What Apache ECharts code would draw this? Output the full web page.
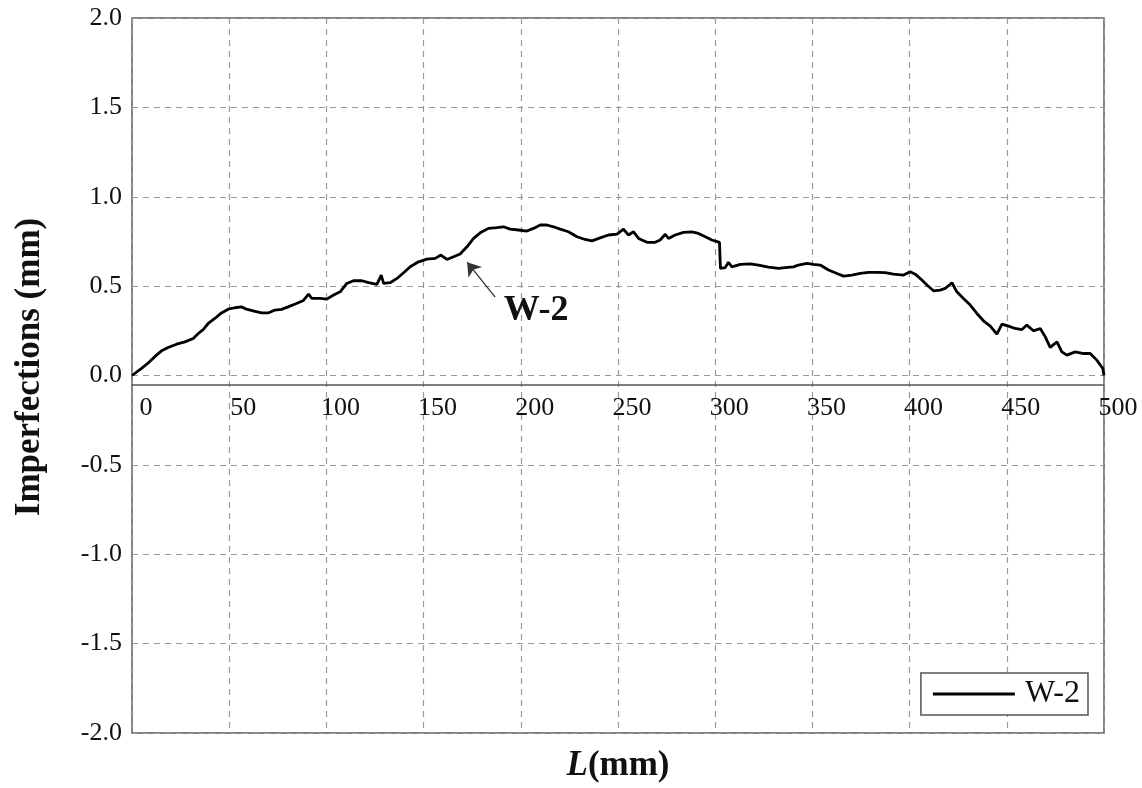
<!DOCTYPE html>
<html>
<head>
<meta charset="utf-8">
<title>W-2 imperfections</title>
<script src="https://cdn.jsdelivr.net/npm/echarts@6/dist/echarts.min.js"></script>
<style>
  html, body { margin: 0; padding: 0; background: #fff; }
  #chart { width: 1142px; height: 788px; }
</style>
</head>
<body>
<div id="chart"></div>
<script>
// Measured profile along the specimen length (mm) and its imperfection (mm)
const lengthMm = [
  0, 4.9, 8.3, 12.6, 15.2, 18.6, 22.9, 27.2, 31.5, 34.1, 36.6, 39.2, 42.6, 46.0, 49.5,
  52.9, 56.3, 58.9, 62.3, 66.6, 70.1, 73.5, 76.9, 80.3, 84.6, 88.2, 90.8, 92.5, 96.8,
  100.2, 103.7, 107.1, 110.5, 113.9, 118.3, 121.7, 126.0, 128.2, 129.4, 132.8, 136.3,
  139.7, 143.1, 147.4, 151.7, 156.0, 158.9, 162.0, 165.4, 168.8, 172.3, 175.7, 179.1,
  183.4, 187.7, 191.1, 194.5, 198.8, 203.1, 206.5, 210.0, 213.4, 216.8, 220.3, 224.5,
  228.9, 233.1, 236.6, 240.8, 245.1, 249.5, 252.8, 255.4, 258.0, 260.6, 264.9, 269.1,
  271.7, 274.3, 276.0, 279.4, 283.7, 288.0, 291.4, 294.9, 298.3, 302.2, 302.7, 305.1,
  306.8, 308.6, 312.9, 318.0, 322.3, 327.4, 332.6, 336.0, 340.3, 342.8, 347.2, 350.6,
  354.0, 358.3, 362.6, 366.0, 370.3, 374.6, 378.9, 383.2, 387.4, 391.7, 396.9, 400.3,
  402.9, 406.3, 408.9, 412.3, 415.7, 418.3, 421.8, 424.3, 427.7, 431.2, 434.6, 438.0,
  441.5, 444.9, 447.5, 450.9, 454.3, 457.8, 460.3, 463.7, 467.2, 469.8, 472.3, 475.8,
  478.3, 480.9, 485.2, 489.5, 492.9, 496.3, 499.4, 500
];
const imperfectionW2 = [
  0.000, 0.040, 0.070, 0.114, 0.138, 0.157, 0.175, 0.188, 0.207, 0.235, 0.257, 0.291, 0.319, 0.350, 0.371,
  0.379, 0.384, 0.371, 0.362, 0.350, 0.350, 0.366, 0.370, 0.384, 0.403, 0.420, 0.455, 0.431, 0.431,
  0.427, 0.450, 0.468, 0.515, 0.530, 0.530, 0.520, 0.510, 0.562, 0.515, 0.519, 0.543,
  0.575, 0.608, 0.636, 0.651, 0.655, 0.674, 0.649, 0.664, 0.680, 0.720, 0.767, 0.798,
  0.823, 0.827, 0.832, 0.819, 0.814, 0.808, 0.823, 0.842, 0.842, 0.832, 0.819, 0.804,
  0.776, 0.761, 0.753, 0.770, 0.786, 0.791, 0.819, 0.786, 0.804, 0.767, 0.745, 0.745,
  0.758, 0.790, 0.767, 0.786, 0.801, 0.804, 0.795, 0.776, 0.758, 0.745, 0.599, 0.603,
  0.633, 0.608, 0.622, 0.625, 0.618, 0.606, 0.599, 0.603, 0.608, 0.618, 0.627, 0.622,
  0.618, 0.590, 0.571, 0.556, 0.562, 0.571, 0.577, 0.577, 0.575, 0.567, 0.562, 0.580,
  0.567, 0.534, 0.506, 0.474, 0.478, 0.487, 0.519, 0.468, 0.431, 0.394, 0.347, 0.306,
  0.276, 0.231, 0.287, 0.276, 0.263, 0.257, 0.282, 0.250, 0.263, 0.216, 0.157, 0.188,
  0.132, 0.114, 0.132, 0.123, 0.123, 0.086, 0.039, 0.000
];

// Axis ranges and tick spacing
const xRange = [0, 500];
const xStep = 50;
const yRange = [-2, 2];
const yStep = 0.5;
const axisCrossY = -0.05;   // the horizontal axis line sits just below zero

// Callout pointing at the curve: arrow tail, arrow tip, label anchor (data units)
const calloutText = 'W-2';
const arrowTail = [186.8, 0.438];
const arrowTip = [172.4, 0.634];
const calloutAnchor = [191.0, 0.363];

const seriesName = 'W-2';
const xTitle = 'L';
const xTitleUnit = '(mm)';
const yTitle = 'Imperfections (mm)';

const SERIF = "'Liberation Serif', 'Times New Roman', Times, serif";
const INK = '#111111';

// Plot box in pixels
const GRID = { left: 132, right: 38, top: 18, bottom: 55 };
const CHART_H = 788;
const plotH = CHART_H - GRID.top - GRID.bottom;
// shift the bottom axis up so its line crosses the value scale at axisCrossY
const xAxisOffset = -plotH * (axisCrossY - yRange[0]) / (yRange[1] - yRange[0]);

const points = lengthMm.map((x, i) => [x, imperfectionW2[i]]);

const chart = echarts.init(document.getElementById('chart'), null, { renderer: 'canvas' });

chart.setOption({
  animation: false,
  backgroundColor: '#ffffff',
  grid: {
    left: GRID.left, right: GRID.right, top: GRID.top, bottom: GRID.bottom,
    show: true,
    borderColor: '#5a5a5a',
    borderWidth: 1.5,
    containLabel: false
  },
  xAxis: {
    type: 'value',
    position: 'bottom',
    offset: xAxisOffset,
    min: xRange[0], max: xRange[1], interval: xStep,
    axisLine: {
      show: true, onZero: false,
      lineStyle: { color: '#555555', width: 1.5 }
    },
    axisTick: { show: false },
    axisLabel: {
      show: true, margin: 11, padding: [0, 0, 0, 28],
      fontFamily: SERIF, fontSize: 26, color: INK,
      showMinLabel: true, showMaxLabel: true
    },
    splitLine: {
      show: true,
      lineStyle: { color: '#9a9a9a', width: 1.2, type: [6, 5] }
    }
  },
  yAxis: {
    type: 'value',
    min: yRange[0], max: yRange[1], interval: yStep,
    axisLine: { show: false },
    axisTick: { show: false },
    axisLabel: {
      margin: 10, fontFamily: SERIF, fontSize: 26, color: INK,
      formatter: v => v.toFixed(1)
    },
    splitLine: {
      show: true,
      lineStyle: { color: '#9a9a9a', width: 1.2, type: [6, 5] }
    }
  },
  legend: {
    show: true,
    data: [seriesName],
    right: 54, bottom: 73,
    orient: 'horizontal',
    padding: [5, 8, 5, 12],
    borderColor: '#555555', borderWidth: 1.5,
    backgroundColor: '#ffffff',
    icon: 'rect',
    itemWidth: 82, itemHeight: 3,
    itemStyle: { color: '#000000' },
    textStyle: { fontFamily: SERIF, fontSize: 32, color: INK, padding: [0, 0, 0, 5] }
  },
  series: [
    {
      name: seriesName,
      type: 'line',
      data: points,
      showSymbol: false,
      symbol: 'none',
      smooth: false,
      lineStyle: { color: '#000000', width: 2.8 },
      itemStyle: { color: '#000000' },
      z: 5,
      markLine: {
        silent: true,
        symbol: ['none', 'arrow'],
        symbolSize: 13,
        label: { show: false },
        lineStyle: { color: '#333333', width: 1.3, type: 'solid' },
        data: [[{ coord: arrowTail }, { coord: arrowTip }]]
      },
      markPoint: {
        silent: true,
        symbol: 'circle',
        symbolSize: 1,
        itemStyle: { color: 'rgba(0,0,0,0)' },
        label: {
          show: true, position: 'right', distance: 0,
          formatter: calloutText,
          fontFamily: SERIF, fontSize: 36, fontWeight: 'bold', color: INK
        },
        data: [{ coord: calloutAnchor }]
      }
    }
  ],
  graphic: [
    {
      type: 'text',
      x: 30, y: 367,
      rotation: Math.PI / 2,
      style: {
        text: yTitle,
        font: 'bold 35px ' + SERIF,
        fill: INK,
        align: 'center',
        verticalAlign: 'middle'
      }
    },
    {
      type: 'text',
      x: 618, y: 766,
      style: {
        text: '{it|' + xTitle + '}{n|' + xTitleUnit + '}',
        align: 'center',
        verticalAlign: 'middle',
        rich: {
          it: { fontFamily: SERIF, fontSize: 35, fontWeight: 'bold', fontStyle: 'italic', fill: INK, color: INK },
          n: { fontFamily: SERIF, fontSize: 35, fontWeight: 'bold', fill: INK, color: INK }
        }
      }
    }
  ]
});
</script>
</body>
</html>
